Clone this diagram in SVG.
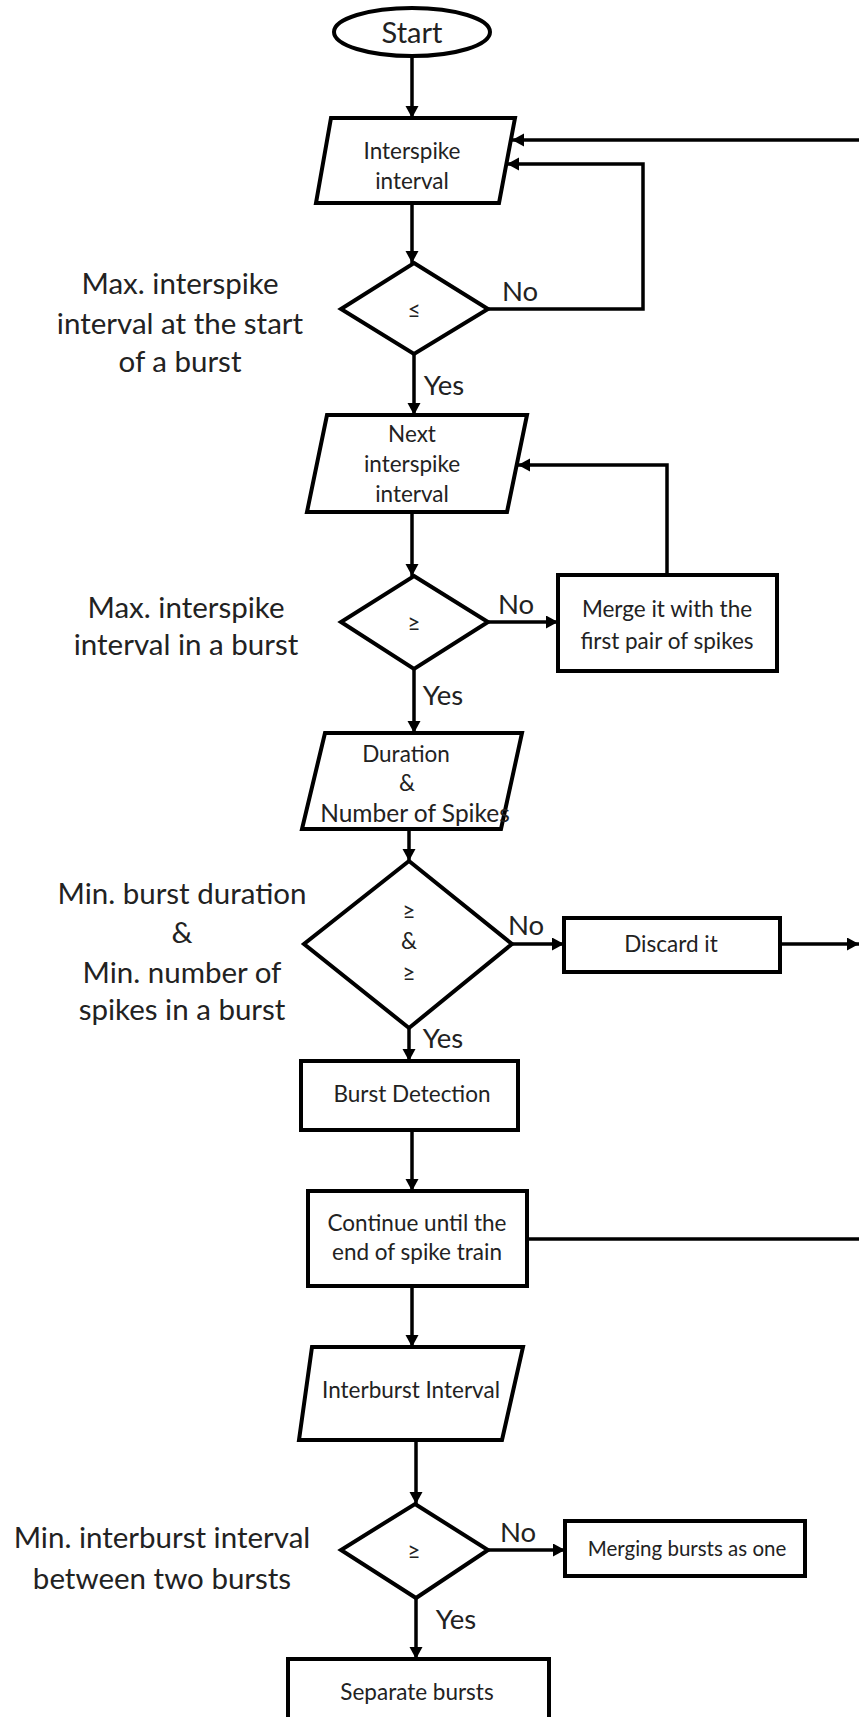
<svg xmlns="http://www.w3.org/2000/svg" width="859" height="1717" viewBox="0 0 859 1717">
<style>
.shape{fill:#fff;stroke:#000;stroke-width:4}
.conn{fill:none;stroke:#000;stroke-width:3.5}
.t{font-family:Lato,"Open Sans",sans-serif;fill:#222;text-anchor:middle;dominant-baseline:central}
.n{font-size:22.5px}
.lbl{font-size:29.5px}
.yn{font-size:27.5px}
</style>
<defs>
<marker id="ah" markerUnits="userSpaceOnUse" markerWidth="14" markerHeight="14" refX="12" refY="6.5" orient="auto">
<path d="M0,0 L12,6.5 L0,13 z" fill="#000"/>
</marker>
</defs>
<rect width="859" height="1717" fill="#fff"/>
<g id="connectors">
<path class="conn" d="M412,56 V118" marker-end="url(#ah)"/>
<path class="conn" d="M412,203 V263" marker-end="url(#ah)"/>
<path class="conn" d="M488,309 H643 V164 H507" marker-end="url(#ah)"/>
<path class="conn" d="M859,140 H512" marker-end="url(#ah)"/>
<path class="conn" d="M414,354 V415" marker-end="url(#ah)"/>
<path class="conn" d="M412,512 V576" marker-end="url(#ah)"/>
<path class="conn" d="M488,622 H558" marker-end="url(#ah)"/>
<path class="conn" d="M667,575 V465 H518" marker-end="url(#ah)"/>
<path class="conn" d="M414,669 V733" marker-end="url(#ah)"/>
<path class="conn" d="M409,829 V861" marker-end="url(#ah)"/>
<path class="conn" d="M512,944 H564" marker-end="url(#ah)"/>
<path class="conn" d="M780,944 H859" marker-end="url(#ah)"/>
<path class="conn" d="M409,1028 V1061" marker-end="url(#ah)"/>
<path class="conn" d="M412,1130 V1191" marker-end="url(#ah)"/>
<path class="conn" d="M527,1239 H859"/>
<path class="conn" d="M412,1286 V1347" marker-end="url(#ah)"/>
<path class="conn" d="M416,1440 V1504" marker-end="url(#ah)"/>
<path class="conn" d="M488,1550 H565" marker-end="url(#ah)"/>
<path class="conn" d="M416,1598 V1659" marker-end="url(#ah)"/>
<text class="t yn" x="520" y="290">No</text>
<text class="t yn" x="444" y="384">Yes</text>
<text class="t yn" x="516" y="603">No</text>
<text class="t yn" x="443" y="694">Yes</text>
<text class="t yn" x="526" y="924">No</text>
<text class="t yn" x="443" y="1037">Yes</text>
<text class="t yn" x="518" y="1531">No</text>
<text class="t yn" x="456" y="1618">Yes</text>
</g>
<g id="start">
<ellipse class="shape" cx="412" cy="32" rx="78" ry="24"/>
<text class="t" x="412" y="31" font-size="29">Start</text>
</g>
<g id="interspike">
<polygon class="shape" points="331,118 515,118 499,203 316,203"/>
<text class="t n" x="412" y="150">Interspike</text>
<text class="t n" x="412" y="180">interval</text>
</g>
<g id="dec1">
<polygon class="shape" points="414,263 488,309 414,354 341,309"/>
<text class="t n" x="414" y="309">≤</text>
</g>
<g id="label1">
<text class="t lbl" x="180" y="282">Max. interspike</text>
<text class="t lbl" x="180" y="322">interval at the start</text>
<text class="t lbl" x="180" y="360">of a burst</text>
</g>
<g id="next">
<polygon class="shape" points="327,415 527,415 507,512 307,512"/>
<text class="t n" x="412" y="433">Next</text>
<text class="t n" x="412" y="463">interspike</text>
<text class="t n" x="412" y="493">interval</text>
</g>
<g id="dec2">
<polygon class="shape" points="414,576 488,622 414,669 341,622"/>
<text class="t n" x="414" y="622">≥</text>
</g>
<g id="label2">
<text class="t lbl" x="186" y="606">Max. interspike</text>
<text class="t lbl" x="186" y="643">interval in a burst</text>
</g>
<g id="merge">
<rect class="shape" x="558" y="575" width="219" height="96"/>
<text class="t n" x="667" y="608">Merge it with the</text>
<text class="t n" x="667" y="640">first pair of spikes</text>
</g>
<g id="duration">
<polygon class="shape" points="325,733 522,733 501,829 302,829"/>
<text class="t n" x="406" y="753">Duration</text>
<text class="t n" x="407" y="782">&amp;</text>
<text class="t" x="415" y="812" font-size="24.5">Number of Spikes</text>
</g>
<g id="dec3">
<polygon class="shape" points="409,861 512,944 409,1028 304,944"/>
<text class="t n" x="409" y="910">≥</text>
<text class="t n" x="409" y="940">&amp;</text>
<text class="t n" x="409" y="972">≥</text>
</g>
<g id="label3">
<text class="t lbl" x="182" y="892">Min. burst duration</text>
<text class="t lbl" x="182" y="931">&amp;</text>
<text class="t lbl" x="182" y="971">Min. number of</text>
<text class="t lbl" x="182" y="1008">spikes in a burst</text>
</g>
<g id="discard">
<rect class="shape" x="564" y="918" width="216" height="54"/>
<text class="t n" x="671" y="943">Discard it</text>
</g>
<g id="burst">
<rect class="shape" x="301" y="1061" width="217" height="69"/>
<text class="t n" x="412" y="1093">Burst Detection</text>
</g>
<g id="continue">
<rect class="shape" x="308" y="1191" width="219" height="95"/>
<text class="t n" x="417" y="1222">Continue until the</text>
<text class="t n" x="417" y="1251">end of spike train</text>
</g>
<g id="interburst">
<polygon class="shape" points="312,1347 523,1347 502,1440 299,1440"/>
<text class="t n" x="411" y="1389">Interburst Interval</text>
</g>
<g id="dec4">
<polygon class="shape" points="415,1504 488,1550 416,1598 341,1550"/>
<text class="t n" x="414" y="1550">≥</text>
</g>
<g id="label4">
<text class="t lbl" x="162" y="1536">Min. interburst interval</text>
<text class="t lbl" x="162" y="1577">between two bursts</text>
</g>
<g id="mergingbursts">
<rect class="shape" x="565" y="1521" width="240" height="55"/>
<text class="t" x="687" y="1548" font-size="20.5">Merging bursts as one</text>
</g>
<g id="separate">
<rect class="shape" x="288" y="1659" width="261" height="70"/>
<text class="t n" x="417" y="1691">Separate bursts</text>
</g>
</svg>
